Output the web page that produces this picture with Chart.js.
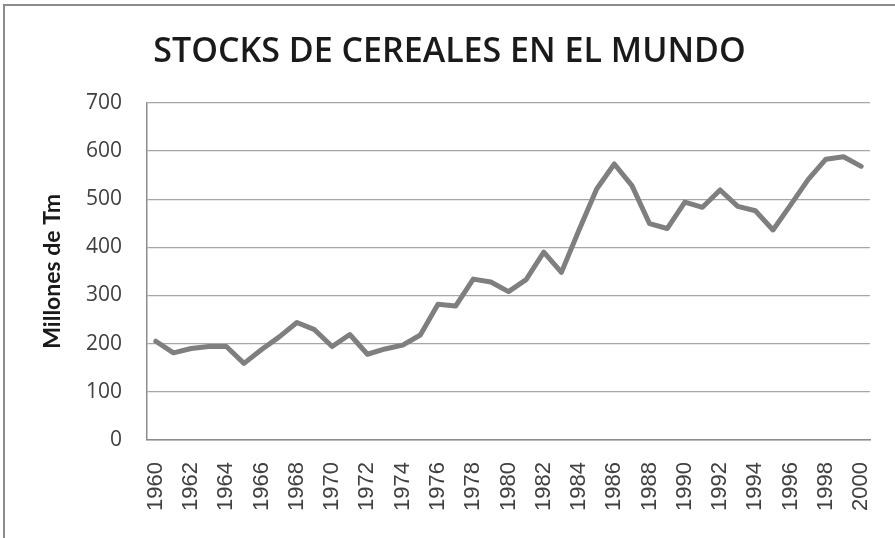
<!DOCTYPE html>
<html>
<head>
<meta charset="utf-8">
<script src="https://cdn.jsdelivr.net/npm/chart.js@4/dist/chart.umd.min.js"></script>
<style>
  html, body { margin: 0; padding: 0; background: #ffffff; }
  #wrap { position: relative; width: 895px; height: 538px; overflow: hidden; background: #ffffff; }
  #frame { position: absolute; left: 3px; top: 4px; width: 1000px; height: 1000px;
           border-top: 2px solid #8c8c8c; border-left: 2px solid #8c8c8c; box-sizing: border-box; }
  #c { position: absolute; left: 0; top: 0; }
</style>
</head>
<body>
<div id="wrap">
  <div id="frame"></div>
  <canvas id="c" width="895" height="538"></canvas>
</div>
<script>
const years = ["1960","1961","1962","1963","1964","1965","1966","1967","1968","1969",
               "1970","1971","1972","1973","1974","1975","1976","1977","1978","1979",
               "1980","1981","1982","1983","1984","1985","1986","1987","1988","1989",
               "1990","1991","1992","1993","1994","1995","1996","1997","1998","1999","2000"];
const stocks = [205, 181, 190, 194, 194, 159, 188, 214, 244, 229,
                194, 219, 178, 189, 197, 218, 282, 278, 334, 328,
                308, 333, 390, 348, 436, 521, 573, 528, 449, 439,
                494, 483, 519, 485, 476, 436, 488, 541, 583, 588, 568];
const yTicks = [0, 100, 200, 300, 400, 500, 600, 700];
const titleText = "STOCKS DE CEREALES EN EL MUNDO";
const yTitle = "Millones de Tm";

new Chart(document.getElementById('c'), {
  type: 'line',
  data: {
    labels: years,
    datasets: [{
      label: 'Stocks',
      data: stocks,
      borderColor: '#7f7f7f',
      borderWidth: 5,
      pointRadius: 0,
      pointHoverRadius: 0,
      tension: 0,
      fill: false,
      borderJoinStyle: 'round',
      borderCapStyle: 'round'
    }]
  },
  options: {
    responsive: false,
    animation: false,
    events: [],
    layout: { padding: { top: 0, left: 29, right: 25, bottom: 0 } },
    plugins: {
      legend: { display: false },
      tooltip: { enabled: false },
      title: {
        display: true,
        text: titleText,
        color: '#1a1a1a',
        font: { family: "'Open Sans', sans-serif", size: 34, weight: 600, lineHeight: 1.2 },
        padding: { top: 32, bottom: 30 }
      }
    },
    scales: {
      x: {
        type: 'category',
        offset: true,
        grid: { display: false, drawTicks: false },
        border: { display: true, color: '#8c8c8c', width: 1.5 },
        ticks: {
          autoSkip: false,
          minRotation: 90,
          maxRotation: 90,
          padding: 22,
          color: '#404040',
          font: { family: "'Liberation Sans', Arial, sans-serif", size: 22 },
          callback: function(value, index) { return index % 2 === 0 ? years[index] : ''; }
        },
        afterFit: function(scale) {
          scale.height = 98;
          scale.paddingLeft = 0;
          scale.paddingRight = 0;
        }
      },
      y: {
        min: 0,
        max: 700,
        afterBuildTicks: function(scale) { scale.ticks = yTicks.map(v => ({ value: v })); },
        grid: { color: '#a6a6a6', lineWidth: 1.2, drawTicks: false },
        border: { display: true, color: '#8c8c8c', width: 1.5 },
        ticks: {
          padding: 25,
          color: '#404040',
          font: { family: "'Open Sans', sans-serif", size: 21 }
        },
        title: {
          display: true,
          text: yTitle,
          color: '#1a1a1a',
          font: { family: "Lato, sans-serif", size: 23, weight: 'bold', lineHeight: 1.2 },
          padding: { top: 10, bottom: 0 }
        },
        afterFit: function(scale) { scale.width = 118; }
      }
    }
  }
});
</script>
</body>
</html>
